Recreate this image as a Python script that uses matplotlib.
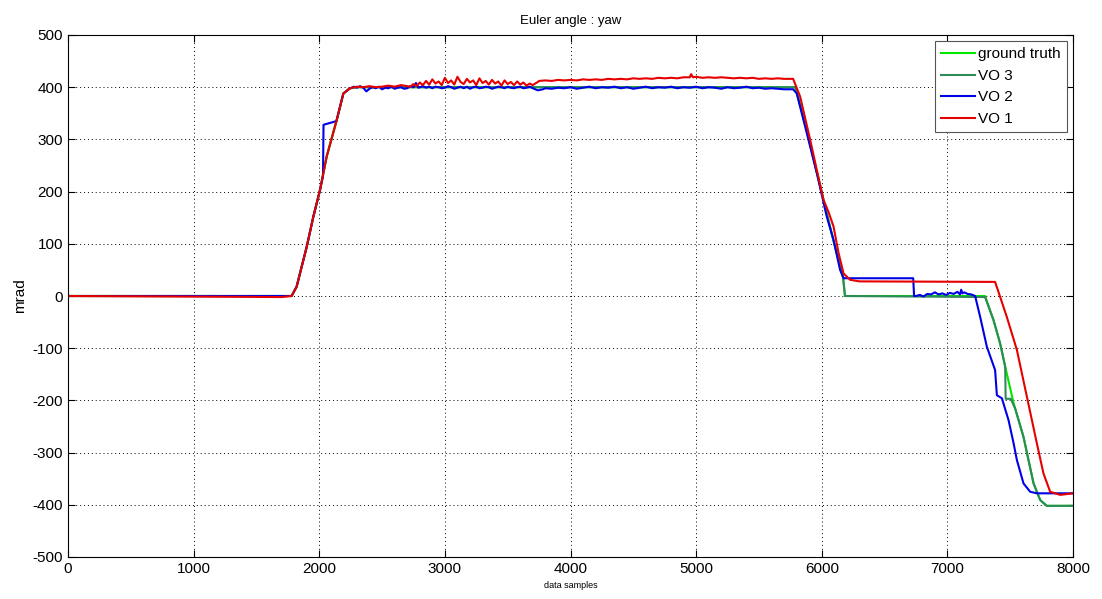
import matplotlib
matplotlib.use("Agg")
import matplotlib.pyplot as plt

plt.rcParams['font.family'] = ['Liberation Sans', 'DejaVu Sans']
plt.rcParams['axes.unicode_minus'] = False

# ---------------- data ----------------
ramp_x = [1780, 1820, 1900, 1953, 2006, 2059, 2139, 2192, 2245]
ramp_y = [0, 18, 94, 152, 203, 267, 337, 388, 398]

gt_x = [0] + ramp_x + [2300, 5790, 5880, 5960, 6040, 6100, 6170, 6185,
                       7300, 7367, 7420, 7460, 7527, 7606, 7686, 7739, 7792, 8000]
gt_y = [0] + ramp_y + [400, 400, 318, 238, 158, 100, 35, 0,
                       0, -46, -91, -135, -205, -270, -359, -391, -402, -402]

vo3_x = [0] + ramp_x + [2300, 5790, 5880, 5960, 6040, 6100, 6170, 6185,
                        7300, 7367, 7420, 7460, 7464, 7505, 7540, 7606, 7686, 7739, 7792, 8000]
vo3_y = [0] + ramp_y + [400, 400, 318, 238, 158, 100, 35, 0,
                        -2, -46, -91, -135, -197, -197, -216, -270, -359, -391, -402, -402]

vo2_x = [0, 1780, 1820, 1900, 1953, 2006, 2030, 2034, 2136, 2139, 2192, 2245,
         2250, 2275, 2300, 2325, 2350, 2375, 2400, 2425, 2450, 2475, 2500, 2525, 2550,
         2575, 2600, 2625, 2650, 2675, 2700, 2725, 2750, 2770, 2790,
         2825, 2850, 2875, 2900, 2925, 2950, 2975, 3000, 3025, 3050, 3075, 3100, 3125,
         3150, 3175, 3200, 3225, 3250, 3275, 3300, 3325, 3350, 3375, 3400, 3425, 3450,
         3475, 3500, 3525, 3550, 3575, 3600, 3625, 3650, 3675, 3700, 3740, 3780,
         3800, 3850, 3900, 3950, 4000, 4050,
         4100, 4150, 4200, 4250, 4300, 4350, 4400, 4450, 4500, 4550, 4600, 4650, 4700,
         4750, 4800, 4850, 4900, 4950, 5000, 5050, 5100, 5150, 5200, 5250, 5300, 5350,
         5400, 5450, 5500, 5550, 5600, 5650, 5700, 5772,
         5801, 5881, 5961, 6040, 6094, 6146, 6174, 6728, 6735,
         6750, 6780, 6810, 6840, 6870, 6900, 6930, 6960, 6990, 7020, 7050, 7080, 7100,
         7110, 7120, 7135, 7160, 7190, 7221,
         7261, 7314, 7380, 7394, 7434, 7487, 7527, 7553, 7606, 7659, 7712, 8000]
vo2_y = [0, 0, 18, 94, 152, 203, 230, 328, 335, 337, 388, 398,
         398, 401, 399, 402, 399, 392, 397, 400, 398, 401, 396, 399, 398,
         401, 397, 399, 400, 397, 398, 402, 400, 408, 399,
         402, 399, 401, 398, 401, 400, 398, 399, 402, 400, 397, 399, 401,
         398, 401, 397, 400, 401, 398, 399, 401, 400, 397, 399, 401, 400,
         398, 401, 399, 398, 400, 401, 398, 399, 401, 398, 394, 396,
         398, 397, 399, 398, 400, 397,
         399, 401, 398, 400, 399, 401, 398, 400, 397, 399, 401, 398, 400,
         399, 401, 398, 400, 399, 401, 398, 400, 399, 397, 400, 398, 399,
         401, 398, 399, 397, 398, 397, 396, 396,
         388, 312, 235, 152, 107, 50, 34, 34, 0,
         0, 2, -1, 4, 3, 7, 3, 5, 2, 6, 4, 8, 3,
         12, 5, 7, 4, 3, 0,
         -40, -97, -142, -190, -196, -238, -282, -314, -359, -375, -378, -378]

vo1_x = [0, 1700, 1780, 1820, 1900, 1953, 2006, 2059, 2139, 2192, 2245,
         2300, 2350, 2400, 2450, 2500, 2550, 2600, 2650, 2700,
         2725, 2750, 2775, 2800, 2825, 2850, 2875, 2900, 2925, 2950, 2975, 3000,
         3025, 3050, 3075, 3100, 3125, 3150, 3175, 3200, 3225, 3250, 3275, 3300,
         3325, 3350, 3375, 3400, 3425, 3450, 3475, 3500, 3525, 3550, 3575, 3600,
         3625, 3650, 3675, 3700, 3725, 3740,
         3750, 3800, 3850, 3900, 3950, 4000, 4050, 4100, 4150, 4200, 4250, 4300,
         4350, 4400, 4450, 4500, 4550, 4600, 4650, 4700, 4750, 4800, 4850, 4900,
         4950, 4960, 4975, 5000, 5050, 5100, 5150, 5200, 5250, 5300, 5350, 5400,
         5450, 5500, 5550, 5600, 5650, 5700, 5772,
         5828, 5908, 5961, 6014, 6054, 6094, 6134, 6174, 6226, 6300, 7380,
         7473, 7553, 7633, 7712, 7765, 7818, 7898, 8000]
vo1_y = [0, -2, 0, 18, 94, 152, 203, 267, 337, 388, 398,
         401, 400, 402, 400, 401, 403, 401, 404, 402,
         401, 406, 402, 409, 404, 412, 405, 415, 407, 411, 404, 418,
         408, 413, 405, 420, 410, 406, 416, 409, 413, 404, 417, 408,
         412, 405, 414, 407, 411, 403, 413, 406, 410, 404, 411, 405,
         409, 403, 407, 404, 408, 410,
         412, 413, 412, 414, 413, 414, 413, 415, 414, 415, 414, 416,
         415, 416, 415, 417, 416, 417, 416, 418, 417, 418, 417, 419,
         419, 425, 419, 420, 418, 419, 418, 419, 418, 417, 418, 417,
         418, 416, 417, 416, 417, 416, 416,
         382, 299, 241, 184, 161, 133, 82, 43, 31, 28, 27,
         -40, -103, -193, -282, -340, -375, -381, -378]

series_names = ["ground truth", "VO 3", "VO 2", "VO 1"]
series_colors = ["#00e600", "#2e8b57", "#0000e6", "#e60000"]

x_ticks = list(range(0, 8001, 1000))
y_ticks = list(range(-500, 501, 100))

# ---------------- figure ----------------
fig = plt.figure(figsize=(11.02, 5.99), dpi=100)
ax = fig.add_axes([68 / 1102, 1 - 557 / 599, (1073 - 68) / 1102, (557 - 35) / 599])

data = [(gt_x, gt_y), (vo3_x, vo3_y), (vo2_x, vo2_y), (vo1_x, vo1_y)]
for (xs, ys), name, col in zip(data, series_names, series_colors):
    ax.plot(xs, ys, color=col, lw=1.5, label=name)

ax.set_xlim(0, 8000)
ax.set_ylim(-500, 500)
ax.set_xticks(x_ticks)
ax.set_yticks(y_ticks)
ax.tick_params(direction='in', length=5, top=True, right=True, labelsize=11, width=0.8)
ax.grid(True, linestyle=(0, (1, 3)), color='black', linewidth=0.7)
for s in ax.spines.values():
    s.set_linewidth(0.8)

ax.set_title("Euler angle : yaw", fontsize=9.5, pad=8)
ax.set_ylabel("mrad", fontsize=11, labelpad=4)
ax.set_xlabel("data samples", fontsize=6.5, labelpad=4)

leg = ax.legend(loc='upper right', fontsize=11, fancybox=False, framealpha=1,
                edgecolor='#555555', borderaxespad=0.4, handlelength=2.2,
                handletextpad=0.2, labelspacing=0.5, borderpad=0.4)
leg.get_frame().set_linewidth(0.8)

fig.savefig("out.png", dpi=100)
